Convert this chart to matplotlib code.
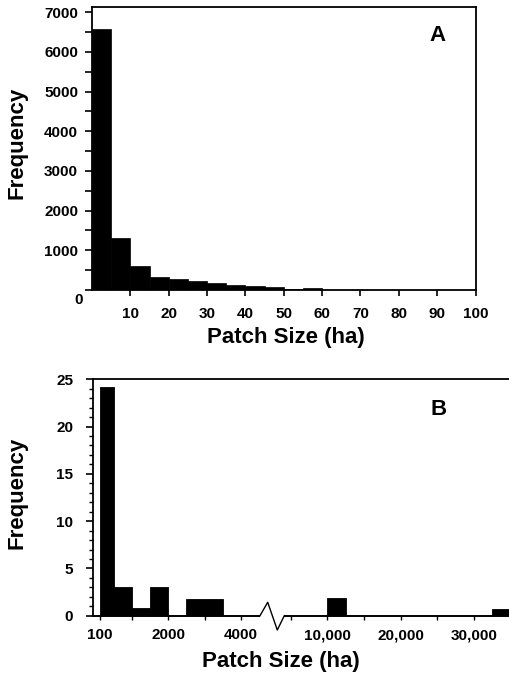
import numpy as np
import matplotlib
matplotlib.use('Agg')
import matplotlib.pyplot as plt
from matplotlib.ticker import MultipleLocator, FixedLocator, FixedFormatter

plt.rcParams['font.family'] = ['Liberation Sans', 'DejaVu Sans']
plt.rcParams['font.weight'] = 'bold'

# ---------------- data ----------------
# Panel A: 5-ha bins from 0 to 100 ha
a_bin_lo = list(range(0, 100, 5))
a_counts = [6570, 1310, 615, 320, 275, 215, 170, 130, 110, 85,
            30, 45, 10, 6, 5, 4, 3, 3, 2, 2]
a_xticks = [10, 20, 30, 40, 50, 60, 70, 80, 90, 100]
a_yticks = [1000, 2000, 3000, 4000, 5000, 6000, 7000]

# Panel B: patches > 100 ha (broken x axis)
b_bin_lo = [100, 500, 1000, 1500, 2000, 2500, 3000, 3500, 4000,
            5000, 7500, 10000, 12500, 32500]
b_bin_hi = [500, 1000, 1500, 2000, 2500, 3000, 3500, 4000, 4500,
            7500, 10000, 12500, 15000, 35000]
b_counts = [24.2, 3.0, 0.85, 3.0, 0, 1.75, 1.75, 0, 0,
            0, 0, 1.85, 0, 0.7]
b_major_ticks = [100, 2000, 4000, 10000, 20000, 30000]
b_major_labels = ['100', '2000', '4000', '10,000', '20,000', '30,000']
b_minor_ticks = [1000, 3000, 5000, 15000, 25000]

# ---------------- figure ----------------
W, H = 509, 680
fig = plt.figure(figsize=(W / 100, H / 100), dpi=100)

def fx(px):
    return px / W

def fy(py):
    return 1 - py / H

lab_fs = 16
tick_fs = 11

# ---- Panel A ----
axA = fig.add_axes([fx(92), fy(290), fx(475.5) - fx(92), fy(7.3) - fy(290)])
axA.bar(a_bin_lo, a_counts, width=5, align='edge', color='black',
        edgecolor='black', linewidth=0.5)
axA.set_xlim(0, 100)
axA.set_ylim(0, 7125)
axA.set_xticks(a_xticks)
axA.set_yticks(a_yticks)
axA.yaxis.set_minor_locator(MultipleLocator(500))
axA.tick_params(axis='x', direction='out', length=4, width=1.2, pad=8,
                labelsize=tick_fs)
axA.tick_params(axis='y', which='both', direction='out', length=5, width=1.2,
                pad=5, labelsize=tick_fs)
for lab in axA.get_xticklabels() + axA.get_yticklabels():
    lab.set_fontweight('bold')
for s in axA.spines.values():
    s.set_linewidth(1.3)
axA.text(-0.034, -0.036, '0', transform=axA.transAxes, ha='center',
         va='center', fontsize=tick_fs, fontweight='bold')
axA.text(0.902, 0.902, 'A', transform=axA.transAxes, ha='center',
         va='center', fontsize=16, fontweight='bold')

# ---- Panel B: piecewise scale with a break ----
L_SLOPE = 0.0362
BREAK_X = 4530.0
R_SLOPE = 0.00734
R_REF = 5000.0
R_OFF = 194.7
U_BREAK_LO = L_SLOPE * BREAK_X
U_BREAK_HI = R_OFF + (BREAK_X - R_REF) * R_SLOPE

def fwd(x):
    x = np.asarray(x, dtype=float)
    return np.where(x <= BREAK_X, L_SLOPE * x, R_OFF + (x - R_REF) * R_SLOPE)

def inv(u):
    u = np.asarray(u, dtype=float)
    left = u / L_SLOPE
    right = R_REF + (u - R_OFF) / R_SLOPE
    return np.where(u <= U_BREAK_LO, left,
                    np.where(u >= U_BREAK_HI, right, BREAK_X))

bx0, bx1 = 92.7, 509.0
by_top, by_bot = 379.3, 615.7
axB = fig.add_axes([fx(bx0), fy(by_bot), fx(bx1) - fx(bx0), fy(by_top) - fy(by_bot)])
axB.set_xscale('function', functions=(fwd, inv))
u_min = bx0 - 95.9
u_max = bx1 - 95.9
x_min = float(inv(u_min))
x_max = float(inv(u_max))
axB.set_xlim(x_min, x_max)
axB.set_ylim(0, 25)

widths = [h - l for l, h in zip(b_bin_lo, b_bin_hi)]
axB.bar(b_bin_lo, b_counts, width=widths, align='edge', color='black',
        edgecolor='black', linewidth=0.6)

axB.xaxis.set_major_locator(FixedLocator(b_major_ticks))
axB.xaxis.set_major_formatter(FixedFormatter(b_major_labels))
axB.xaxis.set_minor_locator(FixedLocator(b_minor_ticks))
axB.tick_params(axis='x', which='both', direction='out', length=3, width=1.0,
                pad=6, labelsize=tick_fs)
axB.yaxis.set_major_locator(MultipleLocator(5))
axB.yaxis.set_minor_locator(MultipleLocator(1))
axB.tick_params(axis='y', which='major', direction='out', length=5, width=1.2,
                pad=9, labelsize=tick_fs)
axB.tick_params(axis='y', which='minor', direction='out', length=3, width=1.0)
for lab in axB.get_xticklabels() + axB.get_yticklabels():
    lab.set_fontweight('bold')
axB.spines['right'].set_visible(False)
axB.spines['bottom'].set_visible(False)
axB.spines['top'].set_linewidth(1.3)
axB.spines['left'].set_linewidth(1.3)

def ufrac(u):
    return (u - u_min) / (u_max - u_min)

hB = by_bot - by_top
# baseline segments
axB.plot([ufrac(u_min), ufrac(164.1)], [0, 0], transform=axB.transAxes,
         color='black', lw=1.4, clip_on=False, solid_capstyle='butt')
axB.plot([ufrac(188.4), ufrac(u_max)], [0, 0], transform=axB.transAxes,
         color='black', lw=1.4, clip_on=False, solid_capstyle='butt')
# zigzag break mark
zz_u = [164.1, 171.8, 181.4, 188.4]
zz_dy = [0, 13.4, -14.3, 0]
axB.plot([ufrac(u) for u in zz_u], [d / hB for d in zz_dy],
         transform=axB.transAxes, color='black', lw=1.0, clip_on=False)

axB.text(0.832, 0.874, 'B', transform=axB.transAxes, ha='center',
         va='center', fontsize=16, fontweight='bold')

# axis labels
fig.text(fx(286), fy(337), 'Patch Size (ha)', ha='center', va='center',
         fontsize=lab_fs, fontweight='bold')
fig.text(fx(281), fy(662), 'Patch Size (ha)', ha='center', va='center',
         fontsize=lab_fs, fontweight='bold')
fig.text(fx(16.7), fy(143), 'Frequency', ha='center', va='center',
         rotation=90, fontsize=lab_fs, fontweight='bold')
fig.text(fx(16.7), fy(492.5), 'Frequency', ha='center', va='center',
         rotation=90, fontsize=lab_fs, fontweight='bold')

fig.savefig('out.png', dpi=100)
